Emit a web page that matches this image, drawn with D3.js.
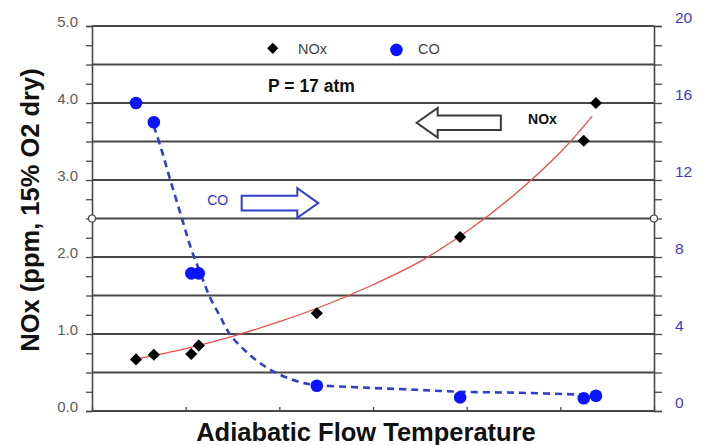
<!DOCTYPE html>
<html>
<head>
<meta charset="utf-8">
<script src="https://cdn.jsdelivr.net/npm/d3@7"></script>
<style>
  body { margin: 0; background: #fff; }
  svg { display: block; font-family: "Liberation Sans", Arial, sans-serif; }
</style>
</head>
<body>
<svg id="chart"></svg>
<script>
// measured data (x = relative flow temperature, no labels on the original axis)
const temps = [0.47, 0.66, 1.06, 1.14, 2.40, 3.93, 5.25, 5.38];
const noxValues = [0.67, 0.73, 0.74, 0.85, 1.27, 2.26, 3.51, 4.00];
const coValues = [16.0, 15.0, 7.15, 7.15, 1.31, 0.71, 0.66, 0.79];

// trend lines
const noxTrendX = [0.46, 1.0, 1.5, 2.0, 2.5, 3.0, 3.5, 4.0, 4.5, 5.0, 5.34];
const noxTrendY = [0.67, 0.81, 0.97, 1.16, 1.38, 1.64, 1.94, 2.33, 2.80, 3.36, 3.83];
const coTrendX = [0.66, 0.74, 0.83, 0.96, 1.06, 1.17, 1.26, 1.37, 1.47, 1.62, 1.79, 2.0, 2.22, 2.4, 2.75, 3.47, 3.93, 4.54, 5.24];
const coTrendY = [14.8, 13.6, 12.1, 10.0, 8.4, 7.0, 5.9, 4.9, 4.0, 3.2, 2.5, 1.9, 1.5, 1.35, 1.25, 1.1, 1.0, 0.95, 0.85];

const leftTicks = [0, 1, 2, 3, 4, 5];
const rightTicks = [0, 4, 8, 12, 16, 20];

const width = 707, height = 445;
const margin = { top: 26, right: 53, bottom: 34, left: 92 };

const svg = d3.select("#chart").attr("width", width).attr("height", height);

const x = d3.scaleLinear().domain([0, 6]).range([margin.left, width - margin.right]);
const y = d3.scaleLinear().domain([0, 5]).range([height - margin.bottom, margin.top]);
const yR = d3.scaleLinear().domain([0, 20]).range([height - margin.bottom, margin.top]);

const gridColor = "#474747";

// horizontal grid every 0.5
svg.append("g")
  .selectAll("line")
  .data(d3.range(0, 5.01, 0.5))
  .join("line")
  .attr("x1", x(0)).attr("x2", x(6))
  .attr("y1", d => y(d)).attr("y2", d => y(d))
  .attr("stroke", gridColor)
  .attr("stroke-width", 1.9);

// left axis
const leftAxis = svg.append("g")
  .attr("transform", `translate(${x(0)},0)`)
  .call(d3.axisLeft(y)
    .tickValues(d3.range(0, 5.01, 0.25))
    .tickSize(6)
    .tickFormat(""));
leftAxis.select(".domain").attr("stroke", gridColor).attr("stroke-width", 1.6);
leftAxis.selectAll(".tick line").attr("stroke", gridColor).attr("stroke-width", 1.3);

svg.append("g")
  .selectAll("text")
  .data(leftTicks)
  .join("text")
  .attr("x", x(0) - 14)
  .attr("y", d => y(d) + 1)
  .attr("text-anchor", "end")
  .attr("fill", "#5a5a5a")
  .style("font-size", "15px")
  .text(d => d.toFixed(1));

// right axis
const rightAxis = svg.append("g")
  .attr("transform", `translate(${x(6)},0)`)
  .call(d3.axisRight(yR)
    .tickValues(d3.range(0, 20.01, 1))
    .tickSize(8)
    .tickFormat(""));
rightAxis.select(".domain").attr("stroke", gridColor).attr("stroke-width", 1.6);
rightAxis.selectAll(".tick line").attr("stroke", gridColor).attr("stroke-width", 1.3);

svg.append("g")
  .selectAll("text")
  .data(rightTicks)
  .join("text")
  .attr("x", x(6) + 21)
  .attr("y", d => yR(d) - 3)
  .attr("fill", "#3b3bc8")
  .style("font-size", "15.5px")
  .text(d => d);

// bottom axis, ticks pointing inward, no labels
const bottomAxis = svg.append("g")
  .attr("transform", `translate(0,${y(0)})`)
  .call(d3.axisBottom(x).ticks(6).tickSize(-4).tickFormat(""));
bottomAxis.select(".domain").remove();
bottomAxis.selectAll(".tick line").attr("stroke", gridColor).attr("stroke-width", 1.3);

// hollow markers on the axes at mid height
svg.append("g")
  .selectAll("circle")
  .data([0, 6])
  .join("circle")
  .attr("cx", d => x(d))
  .attr("cy", y(2.5))
  .attr("r", 3.5)
  .attr("fill", "#fff")
  .attr("stroke", "#444")
  .attr("stroke-width", 1.2);

// trend lines
const noxTrend = noxTrendX.map((t, i) => [t, noxTrendY[i]]);
const coTrend = coTrendX.map((t, i) => [t, coTrendY[i]]);

svg.append("path")
  .datum(noxTrend)
  .attr("fill", "none")
  .attr("stroke", "#e8504a")
  .attr("stroke-width", 1.3)
  .attr("d", d3.line().x(d => x(d[0])).y(d => y(d[1])).curve(d3.curveCatmullRom));

svg.append("path")
  .datum(coTrend)
  .attr("fill", "none")
  .attr("stroke", "#2f3fcc")
  .attr("stroke-width", 2.6)
  .attr("stroke-dasharray", "7,5")
  .attr("d", d3.line().x(d => x(d[0])).y(d => yR(d[1])).curve(d3.curveCatmullRom));

// CO points
svg.append("g")
  .selectAll("circle")
  .data(temps.map((t, i) => [t, coValues[i]]))
  .join("circle")
  .attr("cx", d => x(d[0]))
  .attr("cy", d => yR(d[1]))
  .attr("r", 6.3)
  .attr("fill", "#0a14ff");

// NOx points
const diamond = d3.symbol(d3.symbolSquare, 74);
svg.append("g")
  .selectAll("path")
  .data(temps.map((t, i) => [t, noxValues[i]]))
  .join("path")
  .attr("d", diamond)
  .attr("transform", d => `translate(${x(d[0])},${y(d[1])}) rotate(45)`)
  .attr("fill", "#000");

// legend
svg.append("path")
  .attr("d", d3.symbol(d3.symbolSquare, 62))
  .attr("transform", `translate(${x(1.93)},${y(4.71)}) rotate(45)`)
  .attr("fill", "#000");
svg.append("text")
  .attr("x", x(2.2)).attr("y", y(4.71) + 5.5)
  .attr("fill", "#444")
  .style("font-size", "14.5px")
  .text("NOx");
svg.append("circle")
  .attr("cx", x(3.25)).attr("cy", y(4.69))
  .attr("r", 6.3)
  .attr("fill", "#0a14ff");
svg.append("text")
  .attr("x", x(3.48)).attr("y", y(4.71) + 5.5)
  .attr("fill", "#444")
  .style("font-size", "14.5px")
  .text("CO");

svg.append("text")
  .attr("x", x(1.88)).attr("y", y(4.14))
  .attr("fill", "#111")
  .style("font-size", "17.5px")
  .style("font-weight", "bold")
  .text("P = 17 atm");

// block arrows (tip, tail given in data units; shape in pixels)
function blockArrow(tipX, tailX, yv, color) {
  const tx = x(tipX), ex = x(tailX), cy = y(yv);
  const dir = Math.sign(ex - tx);
  const headLen = 21, bodyHalf = 7.3, headHalf = 14.8;
  const hx = tx + dir * headLen;
  const pts = [
    [tx, cy], [hx, cy - headHalf], [hx, cy - bodyHalf], [ex, cy - bodyHalf],
    [ex, cy + bodyHalf], [hx, cy + bodyHalf], [hx, cy + headHalf]
  ];
  svg.append("path")
    .attr("d", d3.line()(pts) + "Z")
    .attr("fill", "#fff")
    .attr("stroke", color)
    .attr("stroke-width", 2)
    .attr("stroke-linejoin", "miter");
}
blockArrow(3.466, 4.365, 3.744, "#3a3a3a");
blockArrow(2.416, 1.598, 2.70, "#2f3fcc");

svg.append("text")
  .attr("x", x(4.655)).attr("y", y(3.744) + 1.5)
  .attr("fill", "#111")
  .style("font-size", "14px")
  .style("font-weight", "bold")
  .text("NOx");
svg.append("text")
  .attr("x", x(1.23)).attr("y", y(2.70) + 2)
  .attr("fill", "#3333cc")
  .style("font-size", "14px")
  .text("CO");

// axis titles
svg.append("text")
  .attr("x", 366).attr("y", 441)
  .attr("text-anchor", "middle")
  .attr("fill", "#111")
  .style("font-size", "25.5px")
  .style("font-weight", "bold")
  .text("Adiabatic Flow Temperature");

svg.append("text")
  .attr("transform", "translate(38.5,210) rotate(-90)")
  .attr("text-anchor", "middle")
  .attr("fill", "#111")
  .style("font-size", "25.5px")
  .style("font-weight", "bold")
  .text("NOx (ppm, 15% O2 dry)");
</script>
</body>
</html>
